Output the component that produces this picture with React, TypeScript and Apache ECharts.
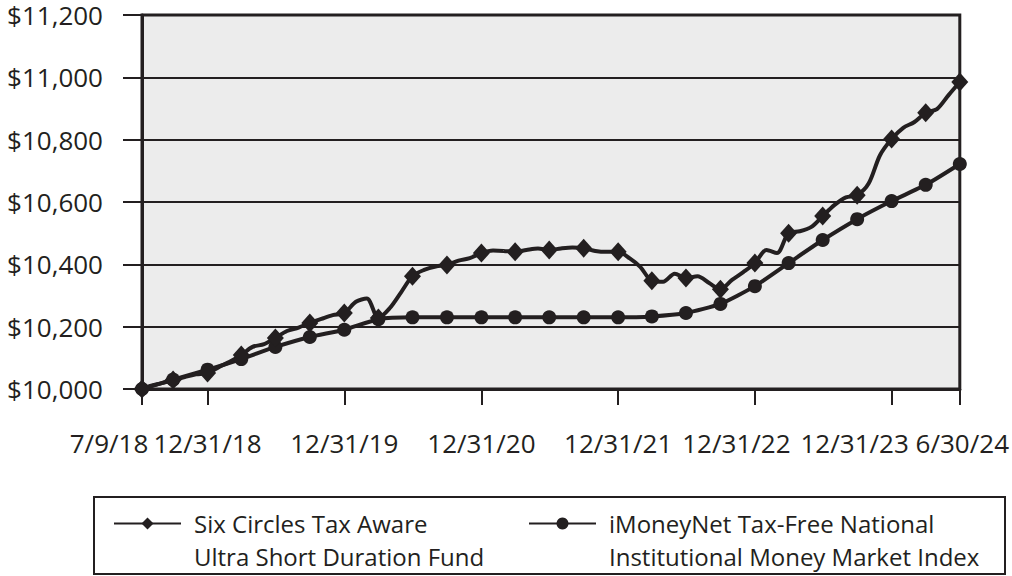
import React, { useEffect, useRef } from 'react';
import * as echarts from 'echarts';

const fundDates = [
  '2018-07-09', '2018-07-31', '2018-08-31', '2018-09-30', '2018-10-31', '2018-11-30', '2018-12-31',
  '2019-01-31', '2019-02-28', '2019-03-31', '2019-04-30', '2019-05-31', '2019-06-30',
  '2019-07-31', '2019-08-31', '2019-09-30', '2019-10-31', '2019-11-30', '2019-12-31',
  '2020-01-31', '2020-02-29', '2020-03-31', '2020-04-30', '2020-05-31', '2020-06-30',
  '2020-07-31', '2020-08-31', '2020-09-30', '2020-10-31', '2020-11-30', '2020-12-31',
  '2021-01-31', '2021-02-28', '2021-03-31', '2021-04-30', '2021-05-31', '2021-06-30',
  '2021-07-31', '2021-08-31', '2021-09-30', '2021-10-31', '2021-11-30', '2021-12-31',
  '2022-01-31', '2022-02-28', '2022-03-31', '2022-04-30', '2022-05-31', '2022-06-30',
  '2022-07-31', '2022-08-31', '2022-09-30', '2022-10-31', '2022-11-30', '2022-12-31',
  '2023-01-31', '2023-02-28', '2023-03-31', '2023-04-30', '2023-05-31', '2023-06-30',
  '2023-07-31', '2023-08-31', '2023-09-30', '2023-10-31', '2023-11-30', '2023-12-31',
  '2024-01-31', '2024-02-29', '2024-03-31', '2024-04-30', '2024-05-31', '2024-06-30',
];
const fundValues = [
  10000, 10010, 10019, 10029, 10038, 10047, 10051,
  10071, 10087, 10109, 10135, 10144, 10164,
  10186, 10197, 10212, 10225, 10237, 10244,
  10280, 10290, 10228, 10259, 10311, 10362,
  10382, 10393, 10398, 10412, 10420, 10436,
  10444, 10443, 10440, 10446, 10451, 10446,
  10451, 10454, 10452, 10443, 10440, 10440,
  10419, 10392, 10347, 10344, 10370, 10356,
  10362, 10340, 10320, 10350, 10375, 10404,
  10446, 10436, 10500, 10506, 10520, 10555,
  10590, 10615, 10622, 10660, 10750, 10802,
  10838, 10856, 10886, 10898, 10943, 10985,
];
const indexDates = [
  '2018-07-09', '2018-09-30', '2018-12-31', '2019-03-31', '2019-06-30', '2019-09-30', '2019-12-31',
  '2020-03-31', '2020-06-30', '2020-09-30', '2020-12-31', '2021-03-31', '2021-06-30', '2021-09-30',
  '2021-12-31', '2022-03-31', '2022-06-30', '2022-09-30', '2022-12-31', '2023-03-31', '2023-06-30',
  '2023-09-30', '2023-12-31', '2024-03-31', '2024-06-30',
];
const indexValues = [
  10000, 10030, 10062, 10096, 10135, 10167, 10190,
  10224, 10230, 10230, 10230, 10230, 10230, 10230,
  10230, 10233, 10244, 10273, 10330, 10404, 10478,
  10545, 10603, 10655, 10722,
];
const tickDates = ['2018-07-09', '2018-12-31', '2019-12-31', '2020-12-31', '2021-12-31', '2022-12-31', '2023-12-31', '2024-06-30'];
const tickLabels = ['7/9/18', '12/31/18', '12/31/19', '12/31/20', '12/31/21', '12/31/22', '12/31/23', '6/30/24'];
const seriesNames = [
  'Six Circles Tax Aware\nUltra Short Duration Fund',
  'iMoneyNet Tax-Free National\nInstitutional Money Market Index',
];
const yMin = 10000;
const yMax = 11200;
const yStep = 200;

const ts = (d: string) => Date.parse(d + 'T00:00:00Z');

const INK = '#231f20';
const FONT = "'Open Sans', 'Noto Sans', sans-serif";
const labelPads = [
  [0, 66, 0, 0], [0, 0, 0, 0], [0, 0, 0, 0], [0, 0, 0, 0],
  [0, 0, 0, 0], [0, 37, 0, 0], [0, 74, 0, 0], [0, 0, 0, 5],
];

export default function App() {
  const ref = useRef<HTMLDivElement>(null);
  useEffect(() => {
    document.body.style.margin = '0';
    if (!ref.current) return;
    const chart = echarts.init(ref.current, undefined, { renderer: 'svg' });
    const tickTs = tickDates.map(ts);
    const rich: Record<string, any> = {};
    labelPads.forEach((p, i) => {
      rich['l' + i] = { padding: p, fontSize: 26, fontFamily: FONT, color: INK };
    });
    const fundData = fundDates.map((d, i) => {
      const m = Number(d.slice(5, 7));
      const isQ = i === 0 || (m % 3 === 0);
      const item: any = { value: [ts(d), fundValues[i]] };
      if (!isQ) item.symbol = 'none';
      return item;
    });
    const indexData = indexDates.map((d, i) => [ts(d), indexValues[i]]);
    const legendCommon = {
      orient: 'horizontal',
      padding: 0,
      itemWidth: 67,
      itemHeight: 15,
      lineStyle: { width: 2 },
      formatter: (name: string) => '\n' + name,
      textStyle: { fontSize: 24, lineHeight: 33, fontFamily: FONT, color: INK, padding: [0, 0, 0, 8] },
    };
    chart.setOption({
      animation: false,
      grid: {
        left: 142, right: 52, top: 15, bottom: 187,
        show: true, backgroundColor: '#ececec', borderColor: INK, borderWidth: 3,
      },
      xAxis: {
        type: 'value',
        min: tickTs[0],
        max: tickTs[tickTs.length - 1],
        splitLine: { show: false },
        axisLine: { lineStyle: { color: INK, width: 3 } },
        axisTick: { customValues: tickTs, length: 16, lineStyle: { color: INK, width: 2 } },
        axisLabel: {
          customValues: tickTs,
          margin: 41,
          fontSize: 26,
          fontFamily: FONT,
          color: INK,
          showMinLabel: true,
          showMaxLabel: true,
          formatter: (v: number) => {
            let idx = 0;
            let best = Infinity;
            tickTs.forEach((t, i) => {
              if (Math.abs(t - v) < best) { best = Math.abs(t - v); idx = i; }
            });
            return `{l${idx}|${tickLabels[idx]}}`;
          },
          rich,
        },
      },
      yAxis: {
        type: 'value',
        min: yMin,
        max: yMax,
        interval: yStep,
        axisLine: { show: true, lineStyle: { color: INK, width: 3 } },
        axisTick: { show: true, length: 19, lineStyle: { color: INK, width: 2 } },
        splitLine: { show: true, lineStyle: { color: INK, width: 2 } },
        axisLabel: {
          margin: 39,
          fontSize: 26,
          fontFamily: FONT,
          color: INK,
          formatter: (v: number) => '$' + v.toLocaleString('en-US'),
        },
      },
      legend: [
        { ...legendCommon, data: [seriesNames[0]], left: 113, top: 474 },
        { ...legendCommon, data: [seriesNames[1]], left: 528, top: 474 },
      ],
      graphic: [
        {
          type: 'rect',
          shape: { x: 94, y: 497, width: 911, height: 77 },
          style: { fill: 'none', stroke: INK, lineWidth: 2 },
          silent: true,
        },
      ],
      series: [
        {
          name: seriesNames[1],
          type: 'line',
          data: indexData,
          symbol: 'circle',
          symbolSize: 14,
          smooth: 0.2,
          lineStyle: { color: INK, width: 4 },
          itemStyle: { color: INK },
        },
        {
          name: seriesNames[0],
          type: 'line',
          data: fundData,
          symbol: 'diamond',
          symbolSize: [17, 19],
          smooth: 0.3,
          lineStyle: { color: INK, width: 4 },
          itemStyle: { color: INK },
        },
      ],
    });
    return () => chart.dispose();
  }, []);
  return <div ref={ref} style={{ width: 1012, height: 576 }} />;
}
